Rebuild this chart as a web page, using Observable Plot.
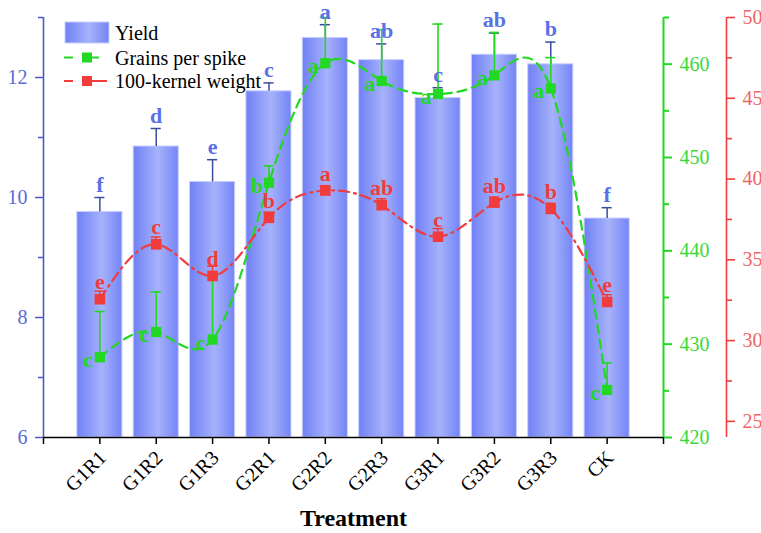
<!DOCTYPE html>
<html><head><meta charset="utf-8">
<script src="https://cdn.jsdelivr.net/npm/d3@7"></script>
<script src="https://cdn.jsdelivr.net/npm/@observablehq/plot@0.6"></script>
<style>body{margin:0;background:#fff}#chart{width:761px;height:533px}#chart svg text{font-family:"Liberation Serif","Times New Roman",serif !important}</style>
</head><body><div id="chart"></div>
<script>
const treatments = ["G1R1","G1R2","G1R3","G2R1","G2R2","G2R3","G3R1","G3R2","G3R3","CK"];
const yieldMean = [9.76,10.85,10.26,11.77,12.66,12.29,11.66,12.38,12.22,9.65];
const yieldErr = [0.24,0.30,0.37,0.14,0.22,0.27,0.17,0.36,0.37,0.18];
const yieldLetters = ["f","d","e","c","a","ab","c","ab","b","f"];
const grainsMean = [428.6,431.3,430.5,447.3,460.1,458.2,456.8,458.8,457.4,425.1];
const grainsErr = [4.9,4.3,6.6,1.8,4.9,5.5,7.5,4.6,3.3,2.9];
const grainsLetters = ["c","c","c","b","a","a","a","a","a","c"];
const kernelMean = [32.56,35.96,34.0,37.6,39.29,38.38,36.43,38.54,38.15,32.39];
const kernelErr = [0.5,0.45,0.6,0.35,0.3,0.4,0.5,0.35,0.35,0.45];
const kernelLetters = ["e","c","d","b","a","ab","c","ab","b","e"];
const yieldTicks = [6,8,10,12], yieldMinor = [7,9,11,13];
const grainsTicks = [420,430,440,450,460], grainsMinor = [425,435,445,455,465];
const kernelTicks = [25,30,35,40,45,50], kernelMinor = [27.5,32.5,37.5,42.5,47.5];

const blueAxis = "#4c58c9", blueText = "#5b6ad8", blueLetter = "#5a70e6", errBlue = "#3a4c9e";
const green = "#22d822", greenText = "#3ad83a", red = "#f03c3c", redText = "#f06464";
const serif = "'Liberation Serif','Times New Roman',serif";

const gToY = d3.scaleLinear([420,465],[6,13]);
const kToY = d3.scaleLinear([24,50],[6,13]);
const rows = treatments.map((t,i)=>({
  i: i+1, t,
  y: yieldMean[i], yt: yieldMean[i]+yieldErr[i], yl: yieldLetters[i],
  g: gToY(grainsMean[i]), gt: gToY(grainsMean[i]+grainsErr[i]), gl: grainsLetters[i],
  k: kToY(kernelMean[i]), kt: kToY(kernelMean[i]+kernelErr[i]), kl: kernelLetters[i]
}));
const cap = 0.09;
const letterFont = {fontSize: 22, fontWeight: "bold"};
const xTicks = d3.range(0, 12);

const plot = Plot.plot({
  width: 761, height: 533,
  marginLeft: 43, marginRight: 98, marginTop: 17, marginBottom: 96,
  x: {domain: [0, 11]},
  y: {domain: [6, 13]},
  style: {fontFamily: serif, background: "white", overflow: "visible"},
  marks: [
    Plot.rect(rows, {x1: d => d.i - 0.4, x2: d => d.i + 0.4, y1: 6, y2: "y", fill: "url(#barGrad)", stroke: "#c9d0fb", strokeWidth: 1}),
    Plot.ruleX(rows, {x: "i", y1: "y", y2: "yt", stroke: errBlue, strokeWidth: 1.5}),
    Plot.ruleY(rows, {y: "yt", x1: d => d.i - cap, x2: d => d.i + cap, stroke: errBlue, strokeWidth: 1.5}),
    Plot.line(rows, {x: "i", y: "g", curve: "natural", stroke: green, strokeWidth: 2.2, strokeDasharray: "9,6"}),
    Plot.ruleX(rows, {x: "i", y1: "g", y2: "gt", stroke: green, strokeWidth: 1.6}),
    Plot.ruleY(rows, {y: "gt", x1: d => d.i - cap, x2: d => d.i + cap, stroke: green, strokeWidth: 1.6}),
    Plot.dot(rows, {x: "i", y: "g", symbol: "square", r: 5.8, fill: green, stroke: "none"}),
    Plot.line(rows, {x: "i", y: "k", curve: "natural", stroke: red, strokeWidth: 2.2, strokeDasharray: "10,5,2,5"}),
    Plot.ruleX(rows, {x: "i", y1: "k", y2: "kt", stroke: red, strokeWidth: 1.5}),
    Plot.ruleY(rows, {y: "kt", x1: d => d.i - cap, x2: d => d.i + cap, stroke: red, strokeWidth: 1.5}),
    Plot.dot(rows, {x: "i", y: "k", symbol: "square", r: 6, fill: red, stroke: "none"}),
    Plot.text(rows, {x: "i", y: "yt", text: "yl", dy: -13, fill: blueLetter, ...letterFont}),
    Plot.text(rows, {x: "i", y: "g", text: "gl", dx: -12, dy: 3, fill: green, ...letterFont}),
    Plot.text(rows, {x: "i", y: "k", text: "kl", dy: -17, fill: red, ...letterFont}),
    // bottom axis: ticks and labels
    Plot.axisX(xTicks, {anchor: "bottom", tickSize: 7, stroke: "black", fill: "none", strokeWidth: 1.5, label: null}),
    Plot.axisX(xTicks, {anchor: "bottom", tickSize: 7, tickPadding: 10, dx: 3, tickRotate: -45,
      tickFormat: i => treatments[i - 1] ?? "", fontSize: 20, stroke: "none", fill: "black", label: null}),
    Plot.ruleY([6], {x1: 0, x2: 11, stroke: "black", strokeWidth: 1.6}),
    Plot.text(["Treatment"], {frameAnchor: "bottom", dy: 88, fontSize: 24, fontWeight: "bold", fill: "black"}),
    // left axis
    Plot.ruleX([0], {y1: 6, y2: 13, stroke: blueAxis, strokeWidth: 1.6}),
    Plot.axisY(yieldTicks, {anchor: "left", tickSize: 8, tickPadding: 8, fontSize: 20, stroke: blueAxis, fill: blueText, strokeWidth: 1.5,
      tickFormat: d => String(d), label: null}),
    Plot.axisY(yieldMinor, {anchor: "left", tickSize: 5, stroke: blueAxis, fill: "none", strokeWidth: 1.5, label: null}),
    // green axis
    Plot.ruleX([11], {y1: 6, y2: 13, stroke: green, strokeWidth: 2}),
    Plot.axisY(grainsTicks.map(gToY), {anchor: "right", tickSize: 8, tickPadding: 8, fontSize: 20, stroke: green, fill: greenText, strokeWidth: 2,
      tickFormat: v => String(Math.round(gToY.invert(v))), label: null}),
    Plot.axisY(grainsMinor.map(gToY), {anchor: "right", tickSize: 5, stroke: green, fill: "none", strokeWidth: 2, label: null}),
    // red axis
    Plot.ruleX([11], {y1: 6, y2: 13, dx: 63, stroke: red, strokeWidth: 1.6}),
    Plot.axisY(kernelTicks.map(kToY), {anchor: "right", dx: 63, tickSize: 8, tickPadding: 8, fontSize: 20, stroke: red, fill: redText, strokeWidth: 1.6,
      tickFormat: v => String(Math.round(kToY.invert(v))), label: null}),
    Plot.axisY(kernelMinor.map(kToY), {anchor: "right", dx: 63, tickSize: 5, stroke: red, fill: "none", strokeWidth: 1.6, label: null})
  ]
});

const svg = d3.select(plot);
const defs = svg.insert("defs", ":first-child");
const grad = defs.append("linearGradient").attr("id", "barGrad")
  .attr("x1", "0").attr("x2", "1").attr("y1", "0").attr("y2", "0");
grad.append("stop").attr("offset", "0").attr("stop-color", "#7080f6");
grad.append("stop").attr("offset", "0.55").attr("stop-color", "#a6b2fa");
grad.append("stop").attr("offset", "1").attr("stop-color", "#7484f7");

const lg = svg.append("g").attr("font-size", 20).attr("fill", "black").attr("text-anchor", "start");
lg.append("rect").attr("x", 65).attr("y", 22).attr("width", 44).attr("height", 21)
  .attr("fill", "url(#barGrad)").attr("stroke", "#c9d0fb");
const legendItems = [
  {label: "Yield", y: 32.5},
  {label: "Grains per spike", y: 57.5, color: green, right: 99},
  {label: "100-kernel weight", y: 81, color: red, right: 107}
];
legendItems.forEach(it => {
  if (it.color) {
    lg.append("line").attr("x1", 64).attr("x2", 73).attr("y1", it.y).attr("y2", it.y).attr("stroke", it.color).attr("stroke-width", 2);
    lg.append("line").attr("x1", 91).attr("x2", it.right).attr("y1", it.y).attr("y2", it.y).attr("stroke", it.color).attr("stroke-width", 2);
    lg.append("rect").attr("x", 82).attr("y", it.y - 5).attr("width", 10).attr("height", 10).attr("fill", it.color);
  }
  lg.append("text").attr("x", 115).attr("y", it.y).attr("dy", "0.35em").text(it.label);
});
svg.selectAll("text").style("font-family", serif);

document.getElementById("chart").appendChild(plot);
</script>
</body></html>
